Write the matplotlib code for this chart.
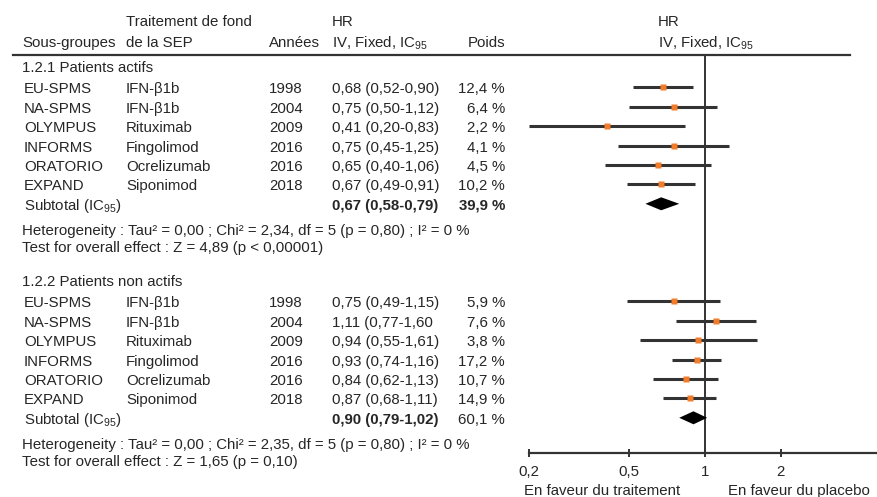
"""
Forest plot: HR by subgroup (patients actifs / non actifs).
"""

import numpy as np
import matplotlib.pyplot as plt

plt.rcParams["font.family"] = ["Liberation Sans", "DejaVu Sans"]
plt.rcParams["mathtext.fontset"] = "custom"
plt.rcParams["mathtext.rm"] = "Liberation Sans"

studies = ["EU-SPMS", "NA-SPMS", "OLYMPUS", "INFORMS", "ORATORIO", "EXPAND"]
treatments = ["IFN-β1b", "IFN-β1b", "Rituximab", "Fingolimod", "Ocrelizumab", "Siponimod"]
years = ["1998", "2004", "2009", "2016", "2016", "2018"]

# 1.2.1 Patients actifs
hr_act = [0.68, 0.75, 0.41, 0.75, 0.65, 0.67]
lo_act = [0.52, 0.50, 0.20, 0.45, 0.40, 0.49]
hi_act = [0.90, 1.12, 0.83, 1.25, 1.06, 0.91]
hr_txt_act = ["0,68 (0,52-0,90)", "0,75 (0,50-1,12)", "0,41 (0,20-0,83)",
              "0,75 (0,45-1,25)", "0,65 (0,40-1,06)", "0,67 (0,49-0,91)"]
weight_act = ["12,4 %", "6,4 %", "2,2 %", "4,1 %", "4,5 %", "10,2 %"]
sub_act = (0.67, 0.58, 0.79)
sub_txt_act = ("0,67 (0,58-0,79)", "39,9 %")
het_act = "Heterogeneity : Tau² = 0,00 ; Chi² = 2,34, df = 5 (p = 0,80) ; I² = 0 %"
test_act = "Test for overall effect : Z = 4,89 (p < 0,00001)"

# 1.2.2 Patients non actifs
hr_non = [0.75, 1.11, 0.94, 0.93, 0.84, 0.87]
lo_non = [0.49, 0.77, 0.55, 0.74, 0.62, 0.68]
hi_non = [1.15, 1.60, 1.61, 1.16, 1.13, 1.11]
hr_txt_non = ["0,75 (0,49-1,15)", "1,11 (0,77-1,60", "0,94 (0,55-1,61)",
              "0,93 (0,74-1,16)", "0,84 (0,62-1,13)", "0,87 (0,68-1,11)"]
weight_non = ["5,9 %", "7,6 %", "3,8 %", "17,2 %", "10,7 %", "14,9 %"]
sub_non = (0.90, 0.79, 1.02)
sub_txt_non = ("0,90 (0,79-1,02)", "60,1 %")
het_non = "Heterogeneity : Tau² = 0,00 ; Chi² = 2,35, df = 5 (p = 0,80) ; I² = 0 %"
test_non = "Test for overall effect : Z = 1,65 (p = 0,10)"

xticks = [0.2, 0.5, 1, 2, 5]
xticklabels = ["0,2", "0,5", "1", "2", "5"]

W, H = 877, 497
TXT = "#262626"
ORANGE = "#f07c2c"
FS = 10.8

fig = plt.figure(figsize=(W / 100, H / 100), dpi=100)
bg = fig.add_axes([0, 0, 1, 1])
bg.set_xlim(0, W)
bg.set_ylim(H, 0)
bg.axis("off")

axis_y, top_y = 453, 55
fx0, fx1 = 529, 881
fax = fig.add_axes([fx0 / W, (H - axis_y) / H, (fx1 - fx0) / W, (axis_y - top_y) / H])
fax.set_xscale("log")
fax.set_xlim(0.2, 5)
fax.set_ylim(axis_y, top_y)
fax.patch.set_alpha(0)
for s in ["top", "right", "left"]:
    fax.spines[s].set_visible(False)
fax.spines["bottom"].set_color("#333333")
fax.spines["bottom"].set_linewidth(1.6)
fax.set_yticks([])
fax.set_xticks(xticks)
fax.set_xticklabels(xticklabels)
fax.minorticks_off()
fax.tick_params(axis="x", direction="inout", length=6, width=1.4, color="#333333",
                labelsize=FS, labelcolor=TXT, pad=6)
fax.axvline(1, color="#333333", lw=1.4, zorder=1)

# column positions
x_name, x_trt, x_year, x_hr, x_w = 24, 126, 269, 332, 505


def txt(x, y, s, ha="left", bold=False):
    bg.text(x, y, s, ha=ha, va="center", fontsize=FS, color=TXT,
            fontweight="bold" if bold else "normal")


# header
txt(x_trt, 22, "Traitement de fond")
txt(x_hr, 22, "HR")
txt(658, 22, "HR")
txt(x_name - 2, 43, "Sous-groupes")
txt(x_trt, 43, "de la SEP")
txt(x_year, 43, "Années")
txt(x_hr, 43, r"IV, Fixed, IC$_{95}$")
txt(x_w, 43, "Poids", ha="right")
txt(658, 43, r"IV, Fixed, IC$_{95}$")
bg.plot([13, 850], [top_y, top_y], color="#333333", lw=1.6)

step = 19.4


def section(y0, title, hr, lo, hi, hr_txt, wts, sub, sub_txt, sub_bold_w, het, test):
    txt(22, y0, title)
    ys = y0 + step * (np.arange(len(hr)) + 1)
    for i, y in enumerate(ys):
        txt(x_name, y + 2, studies[i])
        txt(x_trt, y + 2, treatments[i])
        txt(x_year, y + 2, years[i])
        txt(x_hr, y + 2, hr_txt[i])
        txt(x_w, y + 2, wts[i], ha="right")
    fax.hlines(ys, lo, hi, color="#333333", lw=2.2, zorder=2)
    fax.plot(hr, ys, "s", color=ORANGE, ms=4.2, mec="none", zorder=3)
    ysub = ys[-1] + step
    txt(x_name, ysub + 2, r"Subtotal (IC$_{95}$)")
    txt(x_hr, ysub + 2, sub_txt[0], bold=True)
    txt(x_w, ysub + 2, sub_txt[1], ha="right", bold=sub_bold_w)
    m, a, b = sub
    fax.fill([a, m, b, m], [ysub, ysub - 6.5, ysub, ysub + 6.5], color="black", lw=0, zorder=3)
    txt(22, ysub + 27, het)
    txt(22, ysub + 44, test)


section(68, "1.2.1 Patients actifs", hr_act, lo_act, hi_act, hr_txt_act, weight_act,
        sub_act, sub_txt_act, True, het_act, test_act)
section(282, "1.2.2 Patients non actifs", hr_non, lo_non, hi_non, hr_txt_non, weight_non,
        sub_non, sub_txt_non, False, het_non, test_non)

txt(680, 491, "En faveur du traitement", ha="right")
txt(728, 491, "En faveur du placebo")

fig.savefig("out.png", dpi=100)
